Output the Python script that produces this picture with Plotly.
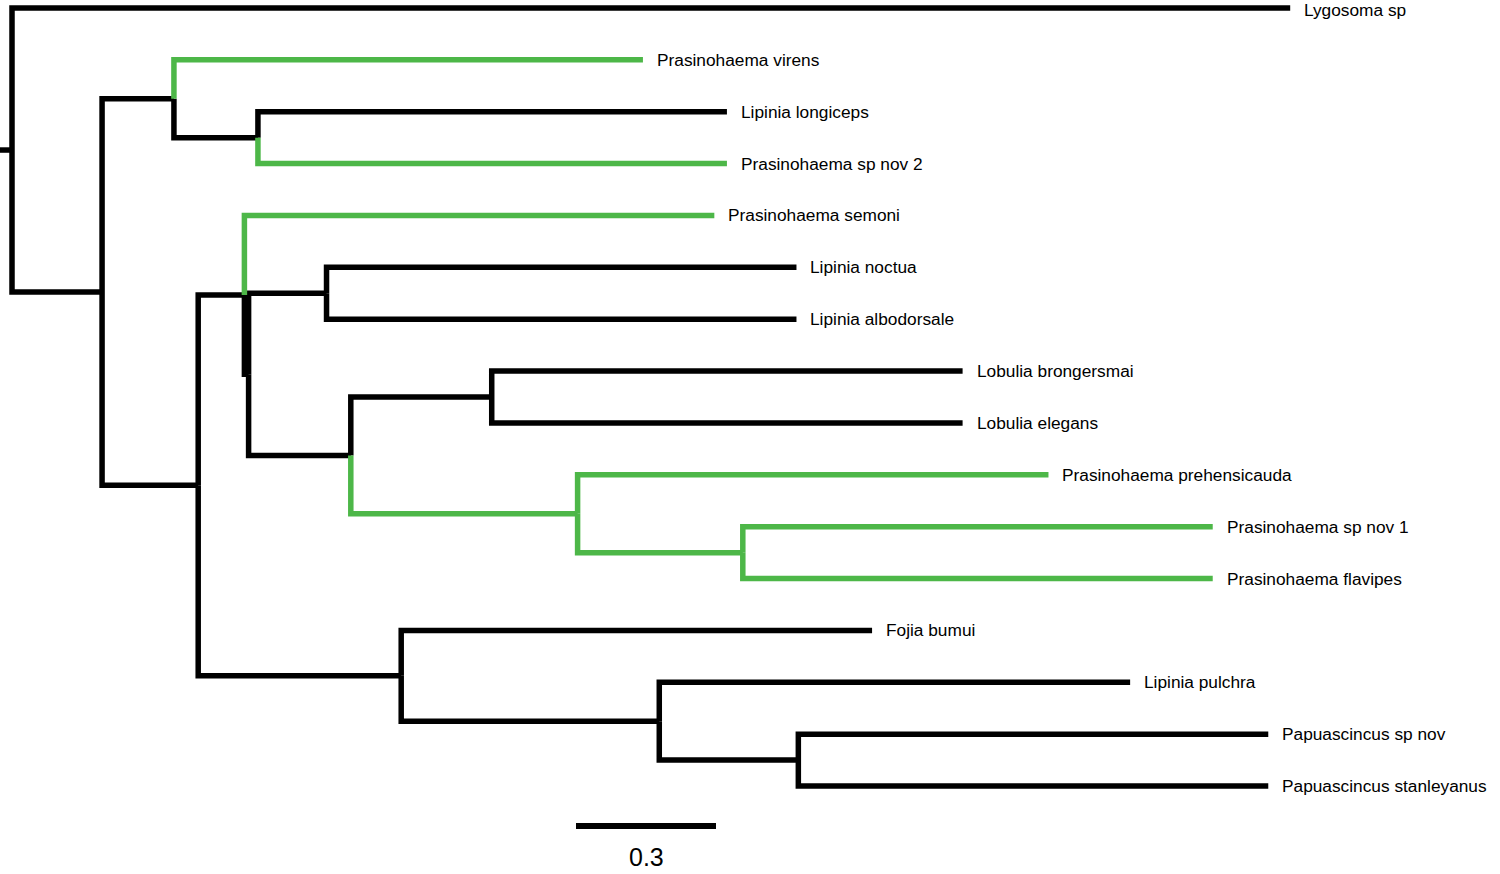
import plotly.graph_objects as go

# ---- data ----
tips = [
    "Lygosoma sp", "Prasinohaema virens", "Lipinia longiceps", "Prasinohaema sp nov 2",
    "Prasinohaema semoni", "Lipinia noctua", "Lipinia albodorsale", "Lobulia brongersmai",
    "Lobulia elegans", "Prasinohaema prehensicauda", "Prasinohaema sp nov 1",
    "Prasinohaema flavipes", "Fojia bumui", "Lipinia pulchra", "Papuascincus sp nov",
    "Papuascincus stanleyanus",
]
edge_child = [
    "Lygosoma sp", "A", "B", "C", "Prasinohaema virens", "D", "Lipinia longiceps",
    "Prasinohaema sp nov 2", "E", "F", "Prasinohaema semoni", "E2", "H", "I",
    "Lipinia noctua", "Lipinia albodorsale", "J", "K", "Lobulia brongersmai",
    "Lobulia elegans", "Prasinohaema prehensicauda", "L", "Prasinohaema sp nov 1",
    "Prasinohaema flavipes", "Fojia bumui", "M", "Lipinia pulchra", "N",
    "Papuascincus sp nov", "Papuascincus stanleyanus",
]
edge_parent = [
    "root", "root", "A", "A", "B", "B", "D", "D", "C", "C", "E", "E", "E2", "E2",
    "H", "H", "I", "I", "J", "J", "K", "K", "L", "L", "F", "F", "M", "M", "N", "N",
]
edge_length = [
    2.739, 0.193, 0.154, 0.206, 1.005, 0.180, 1.005, 1.005, 0.099, 0.435, 1.007, 0.009,
    0.167, 0.219, 1.007, 1.007, 0.302, 0.486, 1.009, 1.009, 1.009, 0.354, 1.007, 1.007,
    1.009, 0.553, 1.009, 0.298, 1.007, 1.007,
]
edge_green = [
    0, 0, 0, 0, 1, 0, 0, 1, 0, 0, 1, 0, 0, 0, 0, 0, 0, 1, 0, 0, 1, 1, 1, 1,
    0, 0, 0, 0, 0, 0,
]
root_stub = 0.026
scale_length = 0.3
scale_label = "0.3"

# ---- layout computation ----
BLACK = "#000000"
GREEN = "#4DB748"
children = {}
for c, p in zip(edge_child, edge_parent):
    children.setdefault(p, []).append(c)
blen = dict(zip(edge_child, edge_length))
green = dict(zip(edge_child, edge_green))

depth = {"root": 0.0}
ypos = {}
def place(n):
    for c in children.get(n, []):
        depth[c] = depth[n] + blen[c]
        place(c)
    if n in tips:
        ypos[n] = tips.index(n)
    else:
        ys = [ypos[c] for c in children[n]]
        ypos[n] = (ys[0] + ys[-1]) / 2
place("root")

bx, by, gx, gy = [], [], [], []
for c, p in zip(edge_child, edge_parent):
    xs = [depth[p], depth[p], depth[c], None]
    ys = [ypos[p], ypos[c], ypos[c], None]
    if green[c]:
        gx += xs; gy += ys
    else:
        bx += xs; by += ys
bx += [depth["root"] - root_stub, depth["root"], None]
by += [ypos["root"], ypos["root"], None]

W, H = 1500, 874
ppu = 140 / 0.3          # pixels per unit branch length
x0px = 12                # root pixel x
y0px, dy = 8, 51.87      # first tip pixel y, tip spacing
xr = [(0 - x0px) / ppu, (W - x0px) / ppu]
yr = [(H - y0px) / dy, (0 - y0px) / dy]

fig = go.Figure()
lw = 5.5
fig.add_trace(go.Scatter(x=bx, y=by, mode="lines", line=dict(color=BLACK, width=lw),
                         hoverinfo="skip", showlegend=False))
fig.add_trace(go.Scatter(x=gx, y=gy, mode="lines", line=dict(color=GREEN, width=lw),
                         hoverinfo="skip", showlegend=False))

font = "Liberation Sans, Arial, sans-serif"
for i, t in enumerate(tips):
    fig.add_annotation(x=depth[t], y=ypos[t], text=t, showarrow=False, xanchor="left",
                       yanchor="middle", xshift=12, yshift=-2 if i == 0 else 0,
                       font=dict(family=font, size=17.3, color="#000"))

sb_x = (576 - x0px) / ppu
sb_y = (826 - y0px) / dy
fig.add_trace(go.Scatter(x=[sb_x, sb_x + scale_length], y=[sb_y, sb_y], mode="lines",
                         line=dict(color=BLACK, width=6), hoverinfo="skip", showlegend=False))
fig.add_annotation(x=sb_x + scale_length / 2, y=(857 - y0px) / dy, text=scale_label,
                   showarrow=False, xanchor="center", yanchor="middle",
                   font=dict(family=font, size=25, color="#000"))

fig.update_layout(width=W, height=H, margin=dict(l=0, r=0, t=0, b=0),
                  plot_bgcolor="white", paper_bgcolor="white",
                  xaxis=dict(range=xr, visible=False, fixedrange=True),
                  yaxis=dict(range=yr, visible=False, fixedrange=True))
fig.write_html("out.html", config={"displayModeBar": False},
               post_script="document.body.style.margin='0';document.body.style.overflow='hidden';")
